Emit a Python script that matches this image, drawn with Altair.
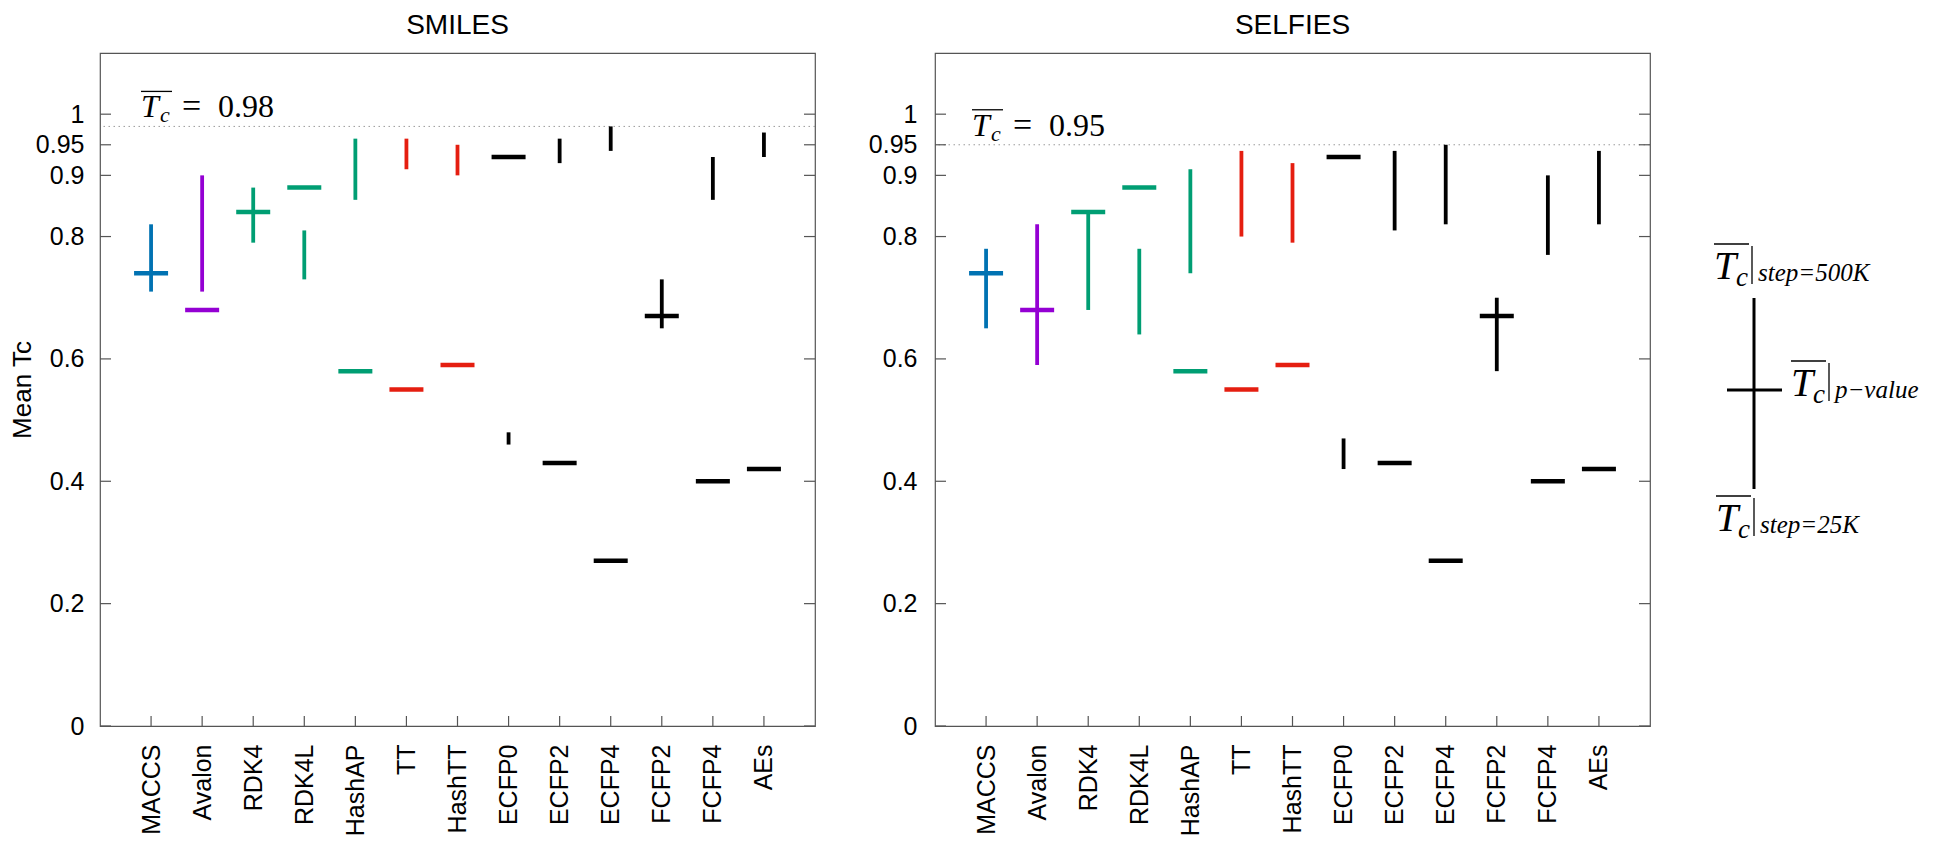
import altair as alt
import pandas as pd

# ---------------- data ----------------
categories = ["MACCS", "Avalon", "RDK4", "RDK4L", "HashAP", "TT", "HashTT",
              "ECFP0", "ECFP2", "ECFP4", "FCFP2", "FCFP4", "AEs"]
bar_colors = ["#0072B2", "#9400D3", "#009E73", "#009E73", "#009E73", "#E51E10", "#E51E10",
              "#000000", "#000000", "#000000", "#000000", "#000000", "#000000"]

smiles_step25k = [0.71, 0.71, 0.79, 0.73, 0.86, 0.91, 0.90, 0.46, 0.92, 0.94, 0.65, 0.86, 0.93]
smiles_step500k = [0.82, 0.90, 0.88, 0.81, 0.96, 0.96, 0.95, 0.48, 0.96, 0.98, 0.73, 0.93, 0.97]
smiles_pvalue = [0.74, 0.68, 0.84, 0.88, 0.58, 0.55, 0.59, 0.93, 0.43, 0.27, 0.67, 0.40, 0.42]

selfies_step25k = [0.65, 0.59, 0.68, 0.64, 0.74, 0.80, 0.79, 0.42, 0.81, 0.82, 0.58, 0.77, 0.82]
selfies_step500k = [0.78, 0.82, 0.84, 0.78, 0.91, 0.94, 0.92, 0.47, 0.94, 0.95, 0.70, 0.90, 0.94]
selfies_pvalue = [0.74, 0.68, 0.84, 0.88, 0.58, 0.55, 0.59, 0.93, 0.43, 0.27, 0.67, 0.40, 0.42]

y_ticks = [0, 0.2, 0.4, 0.6, 0.8, 0.9, 0.95, 1]
smiles_tc = 0.98
selfies_tc = 0.95

# ---------------- layout ----------------
W = 715
H = 673
FRAME = "#555555"
SANS = "Liberation Sans"
SERIF = "Liberation Serif"

yscale = alt.Scale(domain=[0, 1.1], nice=False, zero=False)
xscale = alt.Scale(type="point", padding=1, domain=categories)


def make_x():
    return alt.X("cat:N", sort=categories, scale=xscale,
                 axis=alt.Axis(title=None, labelAngle=270, labelAlign="right",
                               labelBaseline="middle", labelPadding=18,
                               labelFontSize=25, labelOverlap=False))


def make_y(field, title, pad):
    return alt.Y(field, scale=yscale,
                 axis=alt.Axis(values=y_ticks, format="~g", title=title,
                               labelPadding=pad, labelFontSize=25,
                               labelOverlap=False, titlePadding=0,
                               titleFontSize=26, titleFont=SANS,
                               titleFontWeight="normal"))


def txt(df, y_enc, x_px, text, size, dy=0, italic=True, y_px=None):
    mark = alt.Chart(df).mark_text(text=text, font=SERIF, fontSize=size,
                                   fontStyle="italic" if italic else "normal",
                                   align="left", baseline="alphabetic", dy=dy,
                                   color="black")
    if y_px is None:
        return mark.encode(x=alt.value(x_px), y=y_enc)
    return mark.encode(x=alt.value(x_px), y=alt.value(y_px))


def panel(title, lo, hi, pv, tc, ann_x, ytitle, pad, legend=False):
    df = pd.DataFrame({"cat": categories, "lo": lo, "hi": hi, "pv": pv,
                       "color": bar_colors})
    tdf = pd.DataFrame({"v": [tc]})
    ticks_df = pd.DataFrame({"v": y_ticks})
    cat_df = pd.DataFrame({"cat": categories})

    x = make_x()
    color = alt.Color("color:N", scale=None)

    bars = alt.Chart(df).mark_rule(strokeWidth=3.8).encode(
        x=x, y=make_y("lo:Q", ytitle, pad), y2="hi:Q", color=color)
    pticks = alt.Chart(df).mark_tick(thickness=4.5, size=34, opacity=1).encode(
        x=x, y=make_y("pv:Q", ytitle, pad), color=color)
    dotted = alt.Chart(tdf).mark_rule(strokeDash=[1.5, 3.5], color="#9a9a9a",
                                      strokeWidth=1).encode(
        y=make_y("v:Q", ytitle, pad))
    lticks = alt.Chart(ticks_df).mark_rule(color=FRAME, strokeWidth=1.2).encode(
        x=alt.value(0), x2=alt.value(11), y=make_y("v:Q", ytitle, pad))
    rticks = alt.Chart(ticks_df).mark_rule(color=FRAME, strokeWidth=1.2).encode(
        x=alt.value(W - 11), x2=alt.value(W), y=make_y("v:Q", ytitle, pad))
    bticks = alt.Chart(cat_df).mark_rule(color=FRAME, strokeWidth=1.2).encode(
        x=x, y=alt.value(H), y2=alt.value(H - 10))

    yv = make_y("v:Q", ytitle, pad)
    overline = alt.Chart(tdf).mark_rule(color="black", strokeWidth=1.3, yOffset=-35).encode(
        x=alt.value(ann_x), x2=alt.value(ann_x + 31), y=yv)
    ann = [
        overline,
        txt(tdf, yv, ann_x, "T", 32, dy=-9),
        txt(tdf, yv, ann_x + 19, "c", 22, dy=-4),
        txt(tdf, yv, ann_x + 41, "=", 34, dy=-9, italic=False),
        txt(tdf, yv, ann_x + 77, f"{tc:.2f}", 32, dy=-9, italic=False),
    ]

    layers = [dotted, lticks, rticks, bticks, bars, pticks] + ann

    if legend:
        one = pd.DataFrame({"k": [0]})
        vline = alt.Chart(one).mark_rule(color="black", strokeWidth=3).encode(
            x=alt.value(819), y=alt.value(245), y2=alt.value(436))
        hline = alt.Chart(one).mark_rule(color="black", strokeWidth=3).encode(
            x=alt.value(792), x2=alt.value(847), y=alt.value(337))
        layers += [vline, hline]
        # (T x, baseline y, subscript text)
        for tx, by, sub in [(779, 226, "step=500K"), (856, 343, "p\u2212value"),
                            (781, 478, "step=25K")]:
            layers += [
                alt.Chart(one).mark_rule(color="black", strokeWidth=1.3).encode(
                    x=alt.value(tx), x2=alt.value(tx + 35), y=alt.value(by - 35)),
                alt.Chart(one).mark_rule(color="black", strokeWidth=1.3).encode(
                    x=alt.value(tx + 38), y=alt.value(by - 33), y2=alt.value(by + 5)),
                txt(one, None, tx, "T", 40, y_px=by),
                txt(one, None, tx + 22, "c", 27, y_px=by + 7),
                txt(one, None, tx + 44, sub, 25, y_px=by + 2),
            ]

    return alt.layer(*layers).properties(
        width=W, height=H,
        title=alt.Title(title, font=SANS, fontSize=28, fontWeight="normal",
                        color="black", offset=13, anchor="middle"))


left = panel("SMILES", smiles_step25k, smiles_step500k, smiles_pvalue,
             smiles_tc, 41, "Mean Tc", 16)
right = panel("SELFIES", selfies_step25k, selfies_step500k, selfies_pvalue,
              selfies_tc, 37, None, 18, legend=True)

chart = alt.hconcat(left, right, spacing=50).properties(
    padding={"top": 3, "left": 0, "right": 0, "bottom": 0}
).configure_view(
    stroke=FRAME, strokeWidth=1.2
).configure_axis(
    labelFont=SANS, labelColor="black", titleColor="black",
    ticks=False, tickSize=0, domain=False, grid=False
)

chart.save("out.html", embed_options={"renderer": "svg", "actions": False})
